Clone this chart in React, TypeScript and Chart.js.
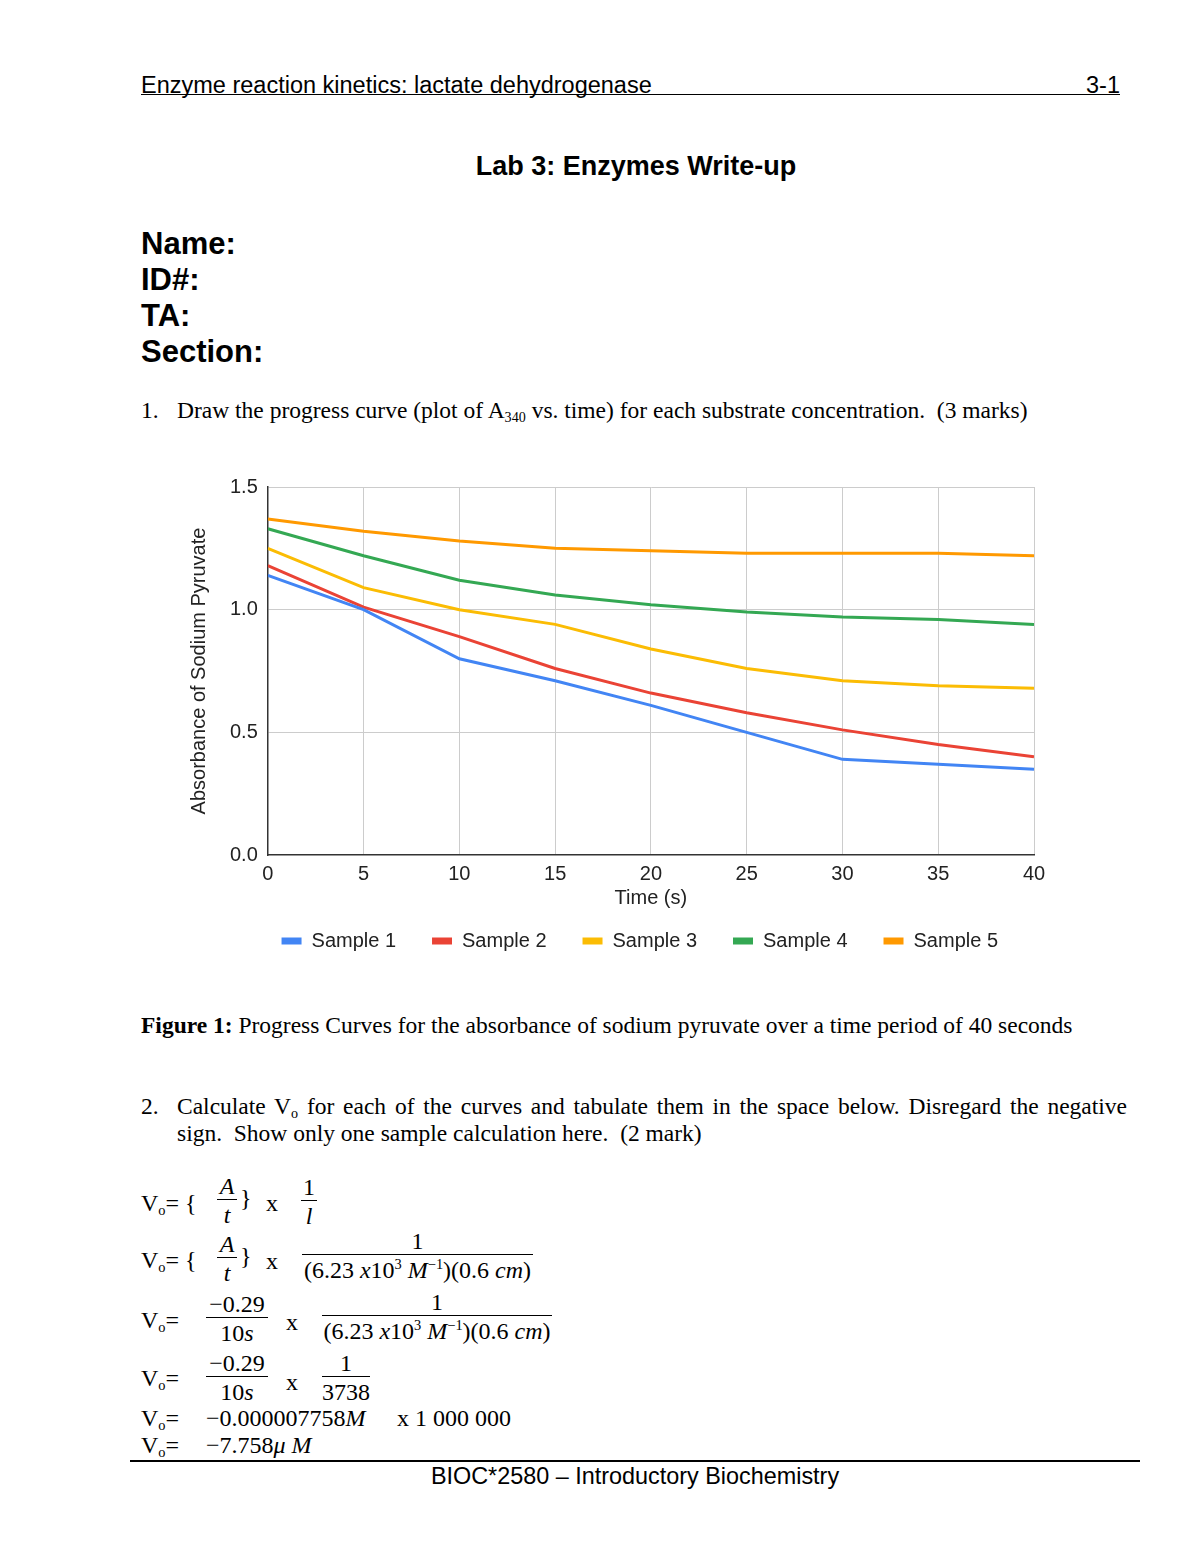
import React, { useEffect, useRef } from "react";
import { Chart, registerables } from "chart.js";

Chart.register(...registerables);

// ---------- data ----------
const times = [0, 5, 10, 15, 20, 25, 30, 35, 40];
const sample1 = [1.14, 1.0, 0.8, 0.71, 0.61, 0.5, 0.39, 0.37, 0.35];
const sample2 = [1.18, 1.01, 0.89, 0.76, 0.66, 0.58, 0.51, 0.45, 0.4];
const sample3 = [1.25, 1.09, 1.0, 0.94, 0.84, 0.76, 0.71, 0.69, 0.68];
const sample4 = [1.33, 1.22, 1.12, 1.06, 1.02, 0.99, 0.97, 0.96, 0.94];
const sample5 = [1.37, 1.32, 1.28, 1.25, 1.24, 1.23, 1.23, 1.23, 1.22];
const seriesNames = ["Sample 1", "Sample 2", "Sample 3", "Sample 4", "Sample 5"];
const seriesValues = [sample1, sample2, sample3, sample4, sample5];
const seriesColors = ["#4285F4", "#EA4335", "#FBBC04", "#34A853", "#FF9900"];
const xTicks = [0, 5, 10, 15, 20, 25, 30, 35, 40];
const yTicks = [0, 0.5, 1.0, 1.5];
const xTitle = "Time (s)";
const yTitle = "Absorbance of Sodium Pyruvate";

const SANS = "'Liberation Sans', Arial, sans-serif";
const SERIF = "'Liberation Serif', 'Times New Roman', serif";

function ProgressChart() {
  const ref = useRef<HTMLCanvasElement | null>(null);
  useEffect(() => {
    const canvas = ref.current;
    if (!canvas) return;
    const font = { family: SANS, size: 20 };
    const gridColor = (c: any) =>
      c.tick && c.tick.value === 0 ? "rgba(0,0,0,0)" : "#cccccc";
    const chart = new Chart(canvas, {
      type: "line",
      data: {
        datasets: seriesNames.map((name, i) => ({
          label: name,
          data: times.map((t, j) => ({ x: t, y: seriesValues[i][j] })),
          borderColor: seriesColors[i],
          backgroundColor: seriesColors[i],
          borderWidth: 3,
          pointRadius: 0,
          pointHoverRadius: 0,
          tension: 0,
          fill: false,
        })),
      },
      options: {
        responsive: false,
        animation: false,
        layout: { padding: { left: 7, top: 22, right: 26, bottom: 14 } },
        plugins: {
          tooltip: { enabled: false },
          legend: {
            position: "bottom",
            align: "end",
            labels: {
              boxWidth: 20,
              boxHeight: 7,
              padding: 36,
              color: "#222222",
              font,
              generateLabels: (ch: any) =>
                Chart.defaults.plugins.legend.labels
                  .generateLabels(ch)
                  .map((l: any) => ({ ...l, lineWidth: 0 })),
            },
          },
        },
        scales: {
          x: {
            type: "linear",
            min: 0,
            max: 40,
            afterBuildTicks: (axis: any) => {
              axis.ticks = xTicks.map((v) => ({ value: v }));
            },
            ticks: { padding: 7, color: "#222222", font, maxRotation: 0 },
            grid: { color: gridColor, lineWidth: 1, drawTicks: false },
            border: { color: "#333333", width: 1.5 },
            title: {
              display: true,
              text: xTitle,
              color: "#222222",
              font,
              padding: { top: -7, bottom: -15 },
            },
          },
          y: {
            type: "linear",
            min: 0,
            max: 1.5,
            afterBuildTicks: (axis: any) => {
              axis.ticks = yTicks.map((v) => ({ value: v }));
            },
            ticks: {
              padding: 10,
              color: "#222222",
              font,
              callback: (v: any) => Number(v).toFixed(1),
            },
            grid: { color: gridColor, lineWidth: 1, drawTicks: false },
            border: { color: "#333333", width: 1.5 },
            title: {
              display: true,
              text: yTitle,
              color: "#222222",
              font,
              padding: { top: 0, bottom: 9 },
            },
          },
        },
      } as any,
    });
    return () => chart.destroy();
  }, []);
  return (
    <canvas
      ref={ref}
      width={880}
      height={510}
      style={{ position: "absolute", left: 180, top: 465, width: 880, height: 510 }}
    />
  );
}

const Sub = ({ children }: { children: React.ReactNode }) => (
  <span style={{ fontSize: "0.6em", position: "relative", top: "0.3em" }}>{children}</span>
);
const Sup = ({ children }: { children: React.ReactNode }) => (
  <span style={{ fontSize: "0.6em", position: "relative", top: "-0.65em" }}>{children}</span>
);

const EQ = 24;
const EQL = 26;
const BODY = 23.5;

function EqText({ left, cy, children }: { left: number; cy: number; children: React.ReactNode }) {
  return (
    <div
      style={{
        position: "absolute",
        left,
        top: cy - EQL / 2,
        fontFamily: SERIF,
        fontSize: EQ,
        lineHeight: `${EQL}px`,
        whiteSpace: "nowrap",
      }}
    >
      {children}
    </div>
  );
}

function Frac({
  left,
  width,
  bar,
  num,
  den,
}: {
  left: number;
  width: number;
  bar: number;
  num: React.ReactNode;
  den: React.ReactNode;
}) {
  return (
    <div
      style={{
        position: "absolute",
        left,
        top: bar - EQL,
        width,
        textAlign: "center",
        fontFamily: SERIF,
        fontSize: EQ,
        lineHeight: `${EQL}px`,
        whiteSpace: "nowrap",
      }}
    >
      <div style={{ height: EQL }}>{num}</div>
      <div style={{ borderTop: "1.5px solid #000" }} />
      <div style={{ paddingTop: 2 }}>{den}</div>
    </div>
  );
}

const Vo = () => (
  <>
    V<Sub>o</Sub>=
  </>
);

const BigDen = () => (
  <>
    (6.23 <i>x</i>10<Sup>3</Sup> <i>M</i>
    <Sup>−1</Sup>)(0.6 <i>cm</i>)
  </>
);

function abs(left: number, top: number, extra: React.CSSProperties = {}): React.CSSProperties {
  return { position: "absolute", left, top, whiteSpace: "nowrap", ...extra };
}

const bodyText: React.CSSProperties = { fontFamily: SERIF, fontSize: BODY, lineHeight: "24px" };

export default function App() {
  return (
    <div
      style={{
        position: "absolute",
        left: 0,
        top: 0,
        width: 1200,
        height: 1553,
        background: "#ffffff",
        overflow: "hidden",
        color: "#000",
      }}
    >
      {/* header */}
      <div style={abs(141, 73, { fontFamily: SANS, fontSize: 23.5, lineHeight: "24px" })}>
        Enzyme reaction kinetics: lactate dehydrogenase
      </div>
      <div
        style={abs(1000, 73, {
          fontFamily: SANS,
          fontSize: 23.5,
          lineHeight: "24px",
          width: 120,
          textAlign: "right",
        })}
      >
        3-1
      </div>
      <div style={{ position: "absolute", left: 141, top: 94, width: 979, borderTop: "1.5px solid #000" }} />

      <div
        style={abs(0, 153, {
          width: 1272,
          textAlign: "center",
          fontFamily: SANS,
          fontWeight: "bold",
          fontSize: 27,
          lineHeight: "27px",
        })}
      >
        Lab 3: Enzymes Write-up
      </div>

      {["Name:", "ID#:", "TA:", "Section:"].map((t, i) => (
        <div
          key={t}
          style={abs(141, 228 + i * 36, {
            fontFamily: SANS,
            fontWeight: "bold",
            fontSize: 31,
            lineHeight: "31px",
          })}
        >
          {t}
        </div>
      ))}

      <div style={abs(141, 398, bodyText)}>1.</div>
      <div style={abs(177, 398, bodyText)}>
        Draw the progress curve (plot of A<Sub>340</Sub> vs. time) for each substrate concentration.&nbsp; (3
        marks)
      </div>

      <ProgressChart />

      <div style={abs(141, 1013, bodyText)}>
        <b>Figure 1:</b> Progress Curves for the absorbance of sodium pyruvate over a time period of 40 seconds
      </div>

      <div style={abs(141, 1094, bodyText)}>2.</div>
      <div
        style={{
          position: "absolute",
          left: 177,
          top: 1094,
          width: 950,
          ...bodyText,
          textAlign: "justify",
          textAlignLast: "justify",
          whiteSpace: "nowrap",
        }}
      >
        Calculate V<Sub>o</Sub> for each of the curves and tabulate them in the space below. Disregard the negative
      </div>
      <div style={abs(177, 1121, bodyText)}>
        sign.&nbsp; Show only one sample calculation here.&nbsp; (2 mark)
      </div>

      {/* equations */}
      <EqText left={141} cy={1203}>
        <Vo /> {"{"}
      </EqText>
      <Frac left={217} width={20} bar={1199} num={<i>A</i>} den={<i>t</i>} />
      <EqText left={240} cy={1198}>{"}"}</EqText>
      <EqText left={266} cy={1203}>x</EqText>
      <Frac left={301} width={16} bar={1200} num="1" den={<i>l</i>} />

      <EqText left={141} cy={1260}>
        <Vo /> {"{"}
      </EqText>
      <Frac left={217} width={20} bar={1257} num={<i>A</i>} den={<i>t</i>} />
      <EqText left={240} cy={1256}>{"}"}</EqText>
      <EqText left={266} cy={1261}>x</EqText>
      <Frac left={302} width={231} bar={1254} num="1" den={<BigDen />} />

      <EqText left={141} cy={1320}>
        <Vo />
      </EqText>
      <Frac left={206} width={62} bar={1317} num="−0.29" den={<>10<i>s</i></>} />
      <EqText left={286} cy={1322}>x</EqText>
      <Frac left={322} width={230} bar={1315} num="1" den={<BigDen />} />

      <EqText left={141} cy={1378}>
        <Vo />
      </EqText>
      <Frac left={206} width={62} bar={1376} num="−0.29" den={<>10<i>s</i></>} />
      <EqText left={286} cy={1382}>x</EqText>
      <Frac left={322} width={48} bar={1376} num="1" den="3738" />

      <EqText left={141} cy={1418}>
        <Vo />
      </EqText>
      <EqText left={206} cy={1418}>
        −0.000007758<i>M</i>
      </EqText>
      <EqText left={397} cy={1418}>x 1 000 000</EqText>

      <EqText left={141} cy={1445}>
        <Vo />
      </EqText>
      <EqText left={206} cy={1445}>
        −7.758<i>μ M</i>
      </EqText>

      {/* footer */}
      <div style={{ position: "absolute", left: 130, top: 1460, width: 1010, borderTop: "2px solid #000" }} />
      <div
        style={abs(0, 1464, {
          width: 1270,
          textAlign: "center",
          fontFamily: SANS,
          fontSize: 23.4,
          lineHeight: "24px",
        })}
      >
        BIOC*2580 – Introductory Biochemistry
      </div>
    </div>
  );
}
